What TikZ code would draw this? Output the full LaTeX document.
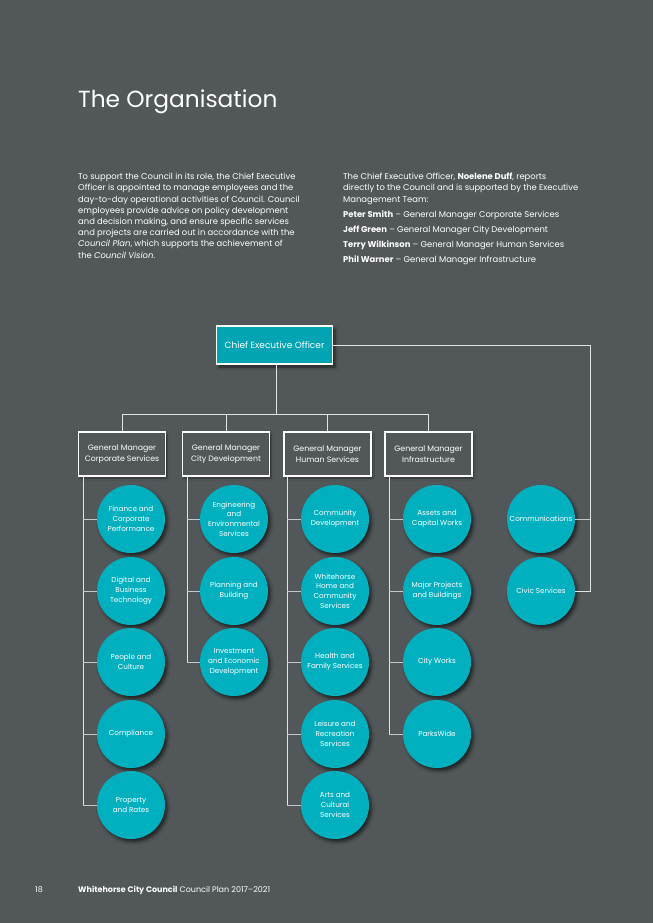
\documentclass[tikz,border=0pt]{standalone}
\usepackage{fontspec}
\setmainfont{Poppins}
\usetikzlibrary{shadows,shadows.blur}
\definecolor{bg}{RGB}{82,88,90}
\definecolor{teal1}{RGB}{0,176,191}
\definecolor{teal2}{RGB}{0,164,178}
\definecolor{lin}{RGB}{225,228,228}
\begin{document}
\begin{tikzpicture}[x=1pt,y=-1pt,
  txt/.style={anchor=base west,inner sep=0,text=white,align=left},
  circ/.style={circle,fill=teal1,minimum size=68pt,inner sep=0,text=white,align=center,
    font=\fontsize{7.2}{9.8}\selectfont,
    blur shadow={shadow xshift=2.5pt,shadow yshift=-3pt,shadow blur radius=3pt,shadow opacity=60}},
  gmbox/.style={draw=white,line width=1.8pt,fill=bg,minimum width=87pt,minimum height=44pt,
    inner sep=0,text=white,align=center,font=\fontsize{7.8}{10.5}\selectfont,
    blur shadow={shadow xshift=1.5pt,shadow yshift=-2pt,shadow blur radius=2pt,shadow opacity=45}},
  ceobox/.style={draw=white,line width=1.8pt,fill=teal2,minimum width=116pt,minimum height=38pt,
    inner sep=0,text=white,font=\fontsize{9}{11}\selectfont,
    blur shadow={shadow xshift=2.5pt,shadow yshift=-3pt,shadow blur radius=3pt,shadow opacity=60}},
  conn/.style={draw=lin,line width=1pt},
  tick/.style={draw=lin!80!bg,line width=0.8pt}
]
\fill[bg] (0,0) rectangle (653,923);
\useasboundingbox (0,0) rectangle (653,923);

\node[txt,font=\fontsize{23.3}{28}\selectfont] (title) at (78,108) {The Organisation};

\node[anchor=north west,inner sep=0,text=white,align=left,font=\fontsize{8.4}{11.2}\selectfont] (lpar) at (78,173)
 {To support the Council in its role, the Chief Executive\\
  Officer is appointed to manage employees and the\\
  day-to-day operational activities of Council. Council\\
  employees provide advice on policy development\\
  and decision making, and ensure specific services\\
  and projects are carried out in accordance with the\\
  \textit{Council Plan}, which supports the achievement of\\
  the \textit{Council Vision}.};

\node[anchor=north west,inner sep=0,text=white,align=left,font=\fontsize{8.4}{11.2}\selectfont] (rpar) at (343,173)
 {The Chief Executive Officer, \textbf{Noelene Duff}, reports\\
  directly to the Council and is supported by the Executive\\
  Management Team:\\[3.8pt]
  \textbf{Peter Smith} -- General Manager Corporate Services\\[3.8pt]
  \textbf{Jeff Green} -- General Manager City Development\\[3.8pt]
  \textbf{Terry Wilkinson} -- General Manager Human Services\\[3.8pt]
  \textbf{Phil Warner} -- General Manager Infrastructure};

% CEO and GMs
\node[ceobox] (ceo) at (274.5,345) {Chief Executive Officer};
\node[gmbox] (gm1) at (122,454) {General Manager\\Corporate Services};
\node[gmbox] (gm2) at (226,454) {General Manager\\City Development};
\node[gmbox] (gm3) at (327.5,454) {General Manager\\Human Services};
\node[gmbox] (gm4) at (428.5,454) {General Manager\\Infrastructure};

\coordinate (bus) at (276,414);
\coordinate (rc) at (590,591);
\coordinate (v1) at (83,477);
\coordinate (v2) at (187,477);
\coordinate (v3) at (287,477);
\coordinate (v4) at (389,477);

% circles
\node[circ] (a1) at (131,519) {Finance and\\Corporate\\Performance};
\node[circ] (a2) at (131,591) {Digital and\\Business\\Technology};
\node[circ] (a3) at (131,662) {People and\\Culture};
\node[circ] (a4) at (131,734) {Compliance};
\node[circ] (a5) at (131,805) {Property\\and Rates};

\node[circ] (b1) at (234,519) {Engineering\\and\\Environmental\\Services};
\node[circ] (b2) at (234,591) {Planning and\\Building};
\node[circ] (b3) at (234,662) {Investment\\and Economic\\Development};

\node[circ] (c1) at (335,519) {Community\\Development};
\node[circ] (c2) at (335,591) {Whitehorse\\Home and\\Community\\Services};
\node[circ] (c3) at (335,662) {Health and\\Family Services};
\node[circ] (c4) at (335,734) {Leisure and\\Recreation\\Services};
\node[circ] (c5) at (335,805) {Arts and\\Cultural\\Services};

\node[circ] (d1) at (437,519) {Assets and\\Capital Works};
\node[circ] (d2) at (437,591) {Major Projects\\and Buildings};
\node[circ] (d3) at (437,662) {City Works};
\node[circ] (d4) at (437,734) {ParksWide};

\node[circ] (e1) at (541,519) {Communications};
\node[circ] (e2) at (541,591) {Civic Services};

% connectors
\draw[conn] (ceo.south -| bus) -- (bus);
\draw[conn] (gm1.north) -- (gm1.north |- bus) -- (gm4.north |- bus) -- (gm4.north);
\draw[conn] (gm2.north |- bus) -- (gm2.north);
\draw[conn] (gm3.north |- bus) -- (gm3.north);
\draw[conn] (ceo.east) -| (rc) -- (e2.east);
\draw[tick] (e1.east) -- (e1.east -| rc);

\draw[conn] (v1) -- (v1 |- a5);
\foreach \n in {a1,a2,a3,a4,a5} \draw[tick] (v1 |- \n) -- (\n.west);
\draw[conn] (v2) -- (v2 |- b3);
\foreach \n in {b1,b2,b3} \draw[tick] (v2 |- \n) -- (\n.west);
\draw[conn] (v3) -- (v3 |- c5);
\foreach \n in {c1,c2,c3,c4,c5} \draw[tick] (v3 |- \n) -- (\n.west);
\draw[conn] (v4) -- (v4 |- d4);
\foreach \n in {d1,d2,d3,d4} \draw[tick] (v4 |- \n) -- (\n.west);

% footer
\node[txt,font=\fontsize{8}{10}\selectfont] (pg) at (35,892) {18};
\node[txt,font=\fontsize{8}{10}\selectfont] (foot) at (78,892) {\textbf{Whitehorse City Council} Council Plan 2017--2021};
\end{tikzpicture}
\end{document}
